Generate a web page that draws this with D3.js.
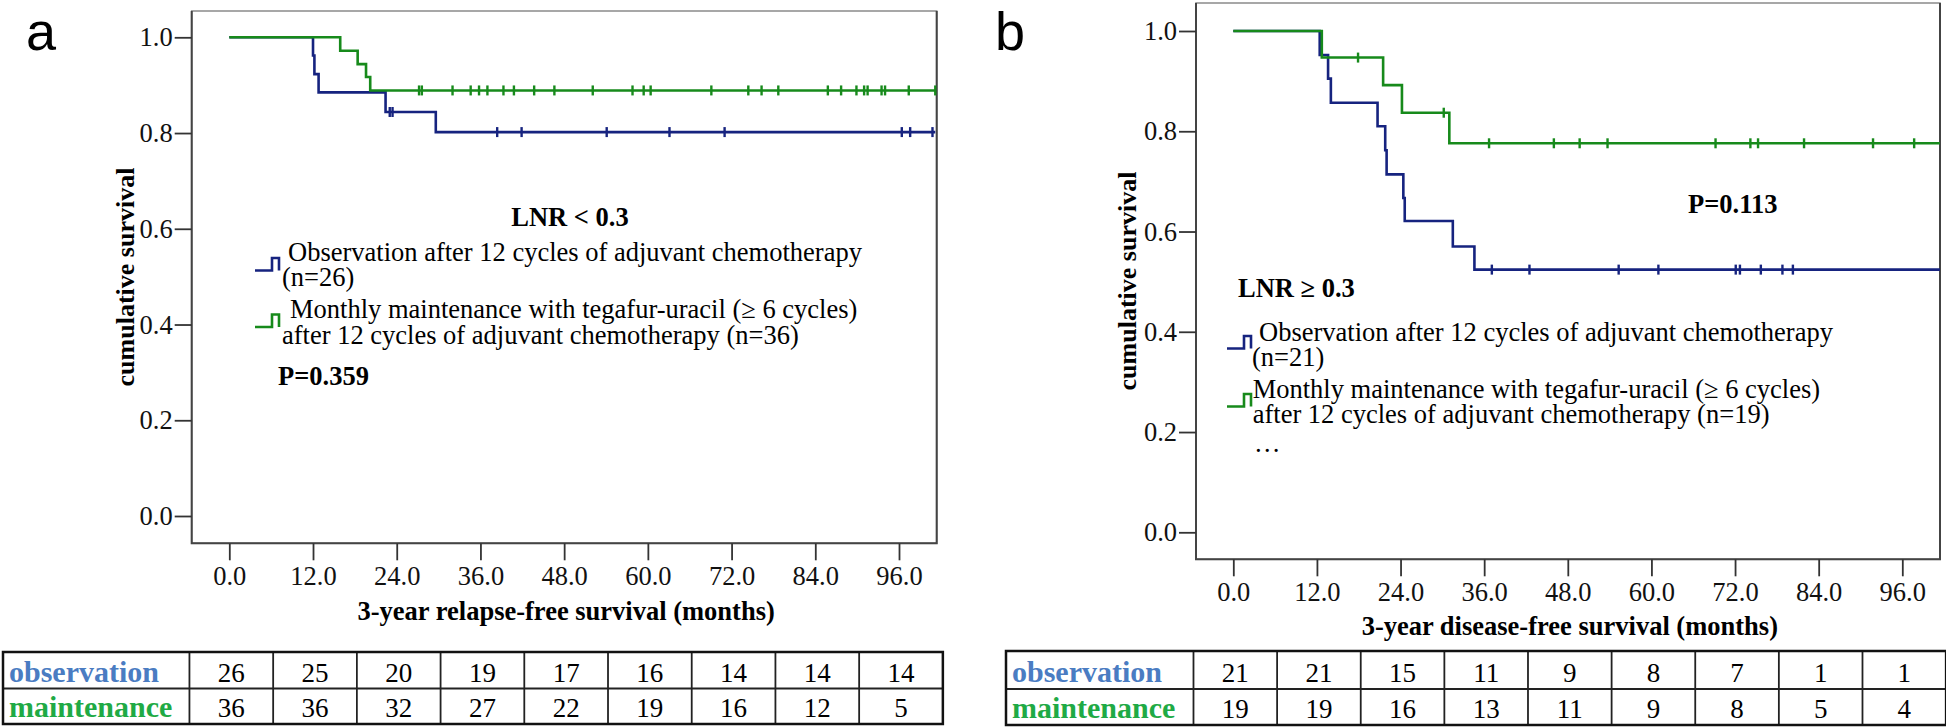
<!DOCTYPE html>
<html>
<head>
<meta charset="utf-8">
<script src="https://cdn.jsdelivr.net/npm/d3@7"></script>
<style>
  body { margin: 0; background: #fff; }
  svg { display: block; }
</style>
</head>
<body>
<div id="chart"></div>
<script>
// Shared tick values
const monthTicks = [0, 12, 24, 36, 48, 60, 72, 84, 96];
const survTicks = [0, 0.2, 0.4, 0.6, 0.8, 1.0];

// Panel a: LNR < 0.3 (event times in months, survival after each event)
const aObsTimes = [12.0, 12.2, 12.8, 22.4, 29.6];
const aObsSurv = [0.962, 0.923, 0.885, 0.844, 0.802];
const aObsCensor = [23.0, 23.4, 38.4, 41.9, 54.1, 63.1, 71.0, 96.4, 97.6, 100.8];
const aMaintTimes = [15.9, 18.4, 19.6, 20.2];
const aMaintSurv = [0.972, 0.944, 0.917, 0.889];
const aMaintCensor = [27.2, 27.6, 32.0, 34.6, 35.8, 37.0, 39.3, 40.8, 43.7, 46.6, 52.1, 57.8, 59.4, 60.4,
  69.1, 74.4, 76.3, 78.7, 85.8, 87.7, 89.9, 91.0, 91.5, 93.5, 94.0, 97.4, 101.2];
const aFollowUpEnd = 101.2;
const aObsRisk = [26, 25, 20, 19, 17, 16, 14, 14, 14];
const aMaintRisk = [36, 36, 32, 27, 22, 19, 16, 12, 5];

// Panel b: LNR >= 0.3
const bObsTimes = [12.4, 13.6, 14.0, 20.7, 21.8, 22.0, 24.4, 24.6, 31.5, 34.6];
const bObsSurv = [0.952, 0.905, 0.857, 0.810, 0.762, 0.714, 0.667, 0.621, 0.570, 0.524];
const bObsCensor = [37.1, 42.5, 55.3, 61.0, 72.1, 72.7, 75.7, 78.8, 80.3];
const bMaintTimes = [12.7, 21.5, 24.2, 31.0];
const bMaintSurv = [0.947, 0.892, 0.837, 0.776];
const bMaintCensor = [17.9, 30.2, 36.7, 46.0, 49.7, 53.7, 69.2, 74.2, 75.3, 81.9, 91.8, 97.7];
const bFollowUpEnd = 101.4;
const bObsRisk = [21, 21, 15, 11, 9, 8, 7, 1, 1];
const bMaintRisk = [19, 19, 16, 13, 11, 9, 8, 5, 4];

// Labels
const rowLabels = ["observation", "maintenance"];
const obsLegend = ["Observation after 12 cycles of adjuvant chemotherapy"];
const maintLegend = ["Monthly maintenance with tegafur-uracil (\u2265 6 cycles)",
  "after 12 cycles of adjuvant chemotherapy"];

const serif = "'Liberation Serif', 'Times New Roman', serif";
const obsColor = "#16237f";
const maintColor = "#178a1b";
const rowColors = ["#4a7cc2", "#1faa45"];

const svg = d3.select("#chart").append("svg")
  .attr("width", 1946)
  .attr("height", 728)
  .style("font-family", serif);

// survival value at a given time (step function)
function survAt(times, surv, t) {
  let s = 1;
  times.forEach((tt, i) => { if (tt <= t) s = surv[i]; });
  return s;
}

function drawPanel(p) {
  const x = d3.scaleLinear().domain([0, 96]).range([p.x0, p.x96]);
  const y = d3.scaleLinear().domain([0, 1]).range([p.y0, p.y1]);
  const g = svg.append("g");

  // panel letter
  g.append("text")
    .attr("x", p.letterX).attr("y", 50)
    .style("font-family", "'Liberation Sans', Arial, sans-serif")
    .style("font-size", "54px")
    .text(p.letter);

  // frame
  g.append("rect")
    .attr("x", p.left).attr("y", p.top)
    .attr("width", p.right - p.left).attr("height", p.bottom - p.top)
    .attr("fill", "none").attr("stroke", "#8a8a8a").attr("stroke-width", 1.5);
  g.append("path")
    .attr("d", `M${p.left},${p.top} V${p.bottom} H${p.right} V${p.top}`)
    .attr("fill", "none").attr("stroke", "#444").attr("stroke-width", 2);

  // y axis
  const yAxis = g.append("g")
    .attr("transform", `translate(${p.left},0)`)
    .call(d3.axisLeft(y).tickValues(survTicks).tickFormat(d3.format(".1f")).tickSize(17).tickPadding(2));
  yAxis.select(".domain").remove();

  // x axis
  const xAxis = g.append("g")
    .attr("transform", `translate(0,${p.bottom})`)
    .call(d3.axisBottom(x).tickValues(monthTicks).tickFormat(d3.format(".1f")).tickSize(17).tickPadding(6));
  xAxis.select(".domain").remove();

  [yAxis, xAxis].forEach(ax => {
    ax.selectAll("line").attr("stroke", "#333").attr("stroke-width", 1.8);
    ax.selectAll("text").style("font-family", serif).style("font-size", "26.5px").attr("fill", "#111");
  });

  // axis titles
  g.append("text")
    .attr("x", (x(0) + x(96)) / 2 + 2).attr("y", p.xTitleY)
    .attr("text-anchor", "middle")
    .style("font-size", "26.5px").style("font-weight", "bold")
    .text(p.xTitle);
  g.append("text")
    .attr("transform", `translate(${p.yTitleX},${p.yTitleY}) rotate(-90)`)
    .attr("text-anchor", "middle")
    .style("font-size", "26px").style("font-weight", "bold")
    .text("cumulative survival");

  // survival curves
  const line = d3.line()
    .x(d => x(d[0]))
    .y(d => y(d[1]))
    .curve(d3.curveStepAfter);

  p.series.forEach(s => {
    const pts = [[0, 1]].concat(s.times.map((t, i) => [t, s.surv[i]]));
    pts.push([p.end, s.surv[s.surv.length - 1]]);
    g.append("path")
      .datum(pts)
      .attr("d", line)
      .attr("fill", "none")
      .attr("stroke", s.color)
      .attr("stroke-width", 2.6);

    g.selectAll(null)
      .data(s.censor)
      .enter()
      .append("line")
      .attr("x1", d => x(d)).attr("x2", d => x(d))
      .attr("y1", d => y(survAt(s.times, s.surv, d)) - 5)
      .attr("y2", d => y(survAt(s.times, s.surv, d)) + 5)
      .attr("stroke", s.color)
      .attr("stroke-width", 2.4);
  });

  // legend
  const leg = p.legend;
  g.append("text")
    .attr("x", leg.titleX).attr("y", leg.titleY)
    .attr("text-anchor", leg.titleAnchor)
    .style("font-size", "26.5px").style("font-weight", "bold")
    .text(leg.title);

  leg.items.forEach(it => {
    g.append("path")
      .attr("d", `M${it.iconX},${it.iconY + 12.5} h17 v-12.5 h7 v12.5`)
      .attr("fill", "none").attr("stroke", it.color).attr("stroke-width", 2.6);
    it.lines.forEach((ln, i) => {
      g.append("text")
        .attr("x", it.textX[i]).attr("y", it.textY[i])
        .style("font-size", "26.5px")
        .text(ln);
    });
  });

  if (leg.ellipsis) {
    g.append("text")
      .attr("x", leg.ellipsis[0]).attr("y", leg.ellipsis[1])
      .style("font-size", "26.5px")
      .text("\u2026");
  }

  g.append("text")
    .attr("x", leg.pX).attr("y", leg.pY)
    .style("font-size", "26.5px").style("font-weight", "bold")
    .text(leg.p);

  // numbers-at-risk table
  const half = (x(12) - x(0)) / 2;
  const tLeft = p.tableLeft, tRight = x(96) + half + 2;
  const rowTop = [p.tableTop, p.tableMid];
  const rowH = [p.tableMid - p.tableTop, p.tableBottom - p.tableMid];
  const table = g.append("g");

  [p.obsRisk, p.maintRisk].forEach((vals, r) => {
    table.append("text")
      .attr("x", tLeft + 6).attr("y", rowTop[r] + rowH[r] - 7)
      .style("font-size", "30px").style("font-weight", "bold")
      .attr("fill", rowColors[r])
      .text(rowLabels[r]);

    table.selectAll(null)
      .data(vals)
      .enter()
      .append("text")
      .attr("x", (d, i) => x(monthTicks[i]) + 2)
      .attr("y", rowTop[r] + rowH[r] - 7)
      .attr("text-anchor", "middle")
      .style("font-size", "27px")
      .text(d => d);
  });

  // grid lines of table
  table.selectAll(null)
    .data(monthTicks)
    .enter()
    .append("line")
    .attr("x1", d => x(d) - half + 2).attr("x2", d => x(d) - half + 2)
    .attr("y1", p.tableTop).attr("y2", p.tableBottom)
    .attr("stroke", "#222").attr("stroke-width", 1.8);
  table.append("line")
    .attr("x1", tLeft).attr("x2", tRight)
    .attr("y1", p.tableMid).attr("y2", p.tableMid)
    .attr("stroke", "#222").attr("stroke-width", 1.8);
  table.append("rect")
    .attr("x", tLeft).attr("y", p.tableTop)
    .attr("width", tRight - tLeft).attr("height", p.tableBottom - p.tableTop)
    .attr("fill", "none").attr("stroke", "#111").attr("stroke-width", 2.5);
}

drawPanel({
  letter: "a", letterX: 26,
  left: 191.7, right: 936.7, top: 11, bottom: 543.3,
  x0: 229.3, x96: 899, y0: 516, y1: 37.3,
  xTitle: "3-year relapse-free survival (months)", xTitleY: 620,
  yTitleX: 134, yTitleY: 277,
  end: aFollowUpEnd,
  series: [
    { times: aObsTimes, surv: aObsSurv, censor: aObsCensor, color: obsColor },
    { times: aMaintTimes, surv: aMaintSurv, censor: aMaintCensor, color: maintColor }
  ],
  legend: {
    title: "LNR < 0.3", titleX: 570, titleY: 226, titleAnchor: "middle",
    items: [
      { color: obsColor, iconX: 255, iconY: 258, lines: [obsLegend[0], "(n=26)"],
        textX: [288, 282], textY: [261, 286] },
      { color: maintColor, iconX: 255, iconY: 314.5, lines: [maintLegend[0], maintLegend[1] + " (n=36)"],
        textX: [290, 282], textY: [318, 344] }
    ],
    p: "P=0.359", pX: 278, pY: 385
  },
  tableLeft: 3, tableTop: 652, tableMid: 688.5, tableBottom: 724,
  obsRisk: aObsRisk, maintRisk: aMaintRisk
});

drawPanel({
  letter: "b", letterX: 995,
  left: 1196, right: 1940, top: 3, bottom: 559.3,
  x0: 1233.3, x96: 1902.3, y0: 532.3, y1: 31,
  xTitle: "3-year disease-free survival (months)", xTitleY: 635,
  yTitleX: 1136, yTitleY: 281,
  end: bFollowUpEnd,
  series: [
    { times: bObsTimes, surv: bObsSurv, censor: bObsCensor, color: obsColor },
    { times: bMaintTimes, surv: bMaintSurv, censor: bMaintCensor, color: maintColor }
  ],
  legend: {
    title: "LNR \u2265 0.3", titleX: 1238, titleY: 297, titleAnchor: "start",
    items: [
      { color: obsColor, iconX: 1227, iconY: 336, lines: [obsLegend[0], "(n=21)"],
        textX: [1259, 1252], textY: [341, 366] },
      { color: maintColor, iconX: 1227, iconY: 394, lines: [maintLegend[0], maintLegend[1] + " (n=19)"],
        textX: [1252.7, 1252.7], textY: [398, 423] }
    ],
    ellipsis: [1254, 452],
    p: "P=0.113", pX: 1688, pY: 213
  },
  tableLeft: 1006, tableTop: 651, tableMid: 689, tableBottom: 725,
  obsRisk: bObsRisk, maintRisk: bMaintRisk
});
</script>
</body>
</html>
